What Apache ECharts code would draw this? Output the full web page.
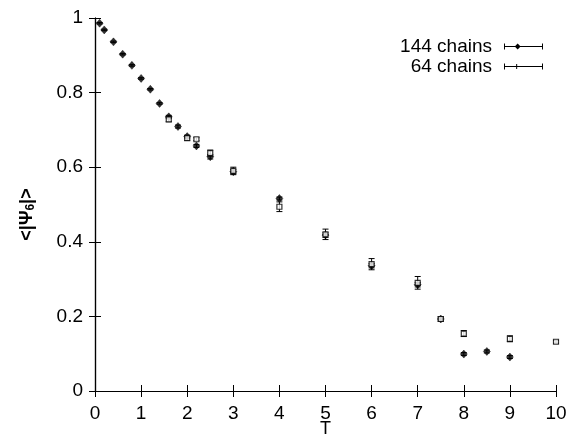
<!DOCTYPE html>
<html><head><meta charset="utf-8">
<script src="https://cdn.jsdelivr.net/npm/echarts@6/dist/echarts.min.js"></script>
<style>html,body{margin:0;padding:0;background:#fff}#c{width:570px;height:438px}</style>
</head><body><div id="c"></div>
<script>
const xTicks = [0,1,2,3,4,5,6,7,8,9,10];
const yTicks = [0,0.2,0.4,0.6,0.8,1];
const T144 = [0.1,0.2,0.4,0.6,0.8,1.0,1.2,1.4,1.6,1.8,2.0,2.2,2.5,3,4,5,6,7,7.5,8,8.5,9];
const psi144 = [0.986,0.968,0.936,0.903,0.873,0.838,0.809,0.771,0.735,0.709,0.682,0.657,0.628,0.588,0.516,0.418,0.336,0.285,0.193,0.099,0.106,0.091];
const err144 = [0.002,0.002,0.002,0.002,0.002,0.002,0.002,0.002,0.004,0.004,0.004,0.004,0.006,0.006,0.004,0.006,0.006,0.006,0.005,0.004,0.004,0.004];
const T64 = [1.6,2.0,2.2,2.5,3,4,5,6,7,7.5,8,9,10];
const psi64 = [0.728,0.678,0.675,0.638,0.590,0.494,0.420,0.340,0.290,0.193,0.154,0.140,0.132];
const err64 = [0.006,0.006,0.004,0.008,0.010,0.013,0.014,0.015,0.017,0.006,0.008,0.008,0.004];

const FONT = 'Liberation Sans';
function errData(T, v, e){ return T.map((t,i)=>[t, v[i]-e[i], v[i]+e[i]]); }
function errRender(params, api){
  const x = api.value(0);
  const lo = api.coord([x, api.value(1)]);
  const hi = api.coord([x, api.value(2)]);
  const w = 3;
  const st = {stroke:'#000', lineWidth:1};
  return {type:'group', children:[
    {type:'line', shape:{x1:lo[0],y1:lo[1],x2:hi[0],y2:hi[1]}, style:st},
    {type:'line', shape:{x1:lo[0]-w,y1:lo[1],x2:lo[0]+w,y2:lo[1]}, style:st},
    {type:'line', shape:{x1:hi[0]-w,y1:hi[1],x2:hi[0]+w,y2:hi[1]}, style:st}
  ]};
}
const axisCommon = {
  axisLine:{show:true, lineStyle:{color:'#000', width:1.2}},
  axisTick:{show:true, inside:true, length:6, lineStyle:{color:'#000'}},
  splitLine:{show:false}
};
const icon144 = 'path://M0,3.5 L40,3.5 L40,4.5 L0,4.5 Z M0,1 L1,1 L1,7 L0,7 Z M39,1 L40,1 L40,7 L39,7 Z M11,4 L14,1 L17,4 L14,7 Z';
const icon64 = 'path://M0,3.5 L40,3.5 L40,4.5 L0,4.5 Z M0,1 L1,1 L1,7 L0,7 Z M39,1 L40,1 L40,7 L39,7 Z M12.5,1.5 L13.5,1.5 L13.5,6.5 L12.5,6.5 Z';

const chart = echarts.init(document.getElementById('c'), null, {renderer:'canvas'});
chart.setOption({
  animation:false,
  textStyle:{fontFamily:FONT},
  grid:{left:95, right:14, top:18, bottom:47, containLabel:false, outerBoundsMode:'none'},
  legend:{
    right:22, top:32, orient:'vertical', align:'right', itemGap:1,
    itemWidth:39, itemHeight:8,
    textStyle:{fontFamily:FONT, fontSize:19, color:'#000', padding:[0,7,0,0]},
    data:[{name:'144 chains', icon:icon144, itemStyle:{color:'#000'}},
          {name:'64 chains', icon:icon64, itemStyle:{color:'#000'}}]
  },
  xAxis:[
    Object.assign({type:'value', min:0, max:10, interval:1, position:'bottom',
      name:'T', nameLocation:'middle', nameGap:29, nameMoveOverlap:false,
      nameTextStyle:{fontFamily:FONT, fontSize:18, color:'#000'},
      axisLabel:{fontFamily:FONT, fontSize:19, color:'#000', margin:13}}, axisCommon),
    Object.assign({type:'value', min:0, max:10, interval:1, position:'top',
      axisLabel:{show:false}}, axisCommon)
  ],
  yAxis:[
    Object.assign({type:'value', min:0, max:1, interval:0.2, position:'left',
      name:'<|Ψ{s|6}|>', nameLocation:'middle', nameGap:58, nameRotate:90, nameMoveOverlap:false,
      nameTextStyle:{fontFamily:FONT, fontSize:18, fontWeight:'bold', color:'#000', padding:[0,0,0,-20],
        rich:{s:{fontFamily:FONT, fontSize:12, fontWeight:'bold', color:'#000', verticalAlign:'bottom', padding:[8,0,0,0]}}},
      axisLabel:{fontFamily:FONT, fontSize:19, color:'#000', margin:12}}, axisCommon),
    Object.assign({type:'value', min:0, max:1, interval:0.2, position:'right',
      axisLabel:{show:false}}, axisCommon)
  ],
  series:[
    {name:'144 chains', type:'custom', renderItem:errRender, data:errData(T144, psi144, err144), z:2},
    {name:'64 chains', type:'custom', renderItem:errRender, data:errData(T64, psi64, err64), z:2},
    {name:'144 chains', type:'scatter', symbol:'diamond', symbolSize:[7,8],
      itemStyle:{color:'#000', borderColor:'#000', borderWidth:0.5},
      data:T144.map((t,i)=>[t, psi144[i]]), z:3},
    {name:'64 chains', type:'scatter', symbol:'rect', symbolSize:5,
      itemStyle:{color:'#fff', borderColor:'#000', borderWidth:1.2},
      data:T64.map((t,i)=>[t, psi64[i]]), z:4}
  ]
});
</script></body></html>
